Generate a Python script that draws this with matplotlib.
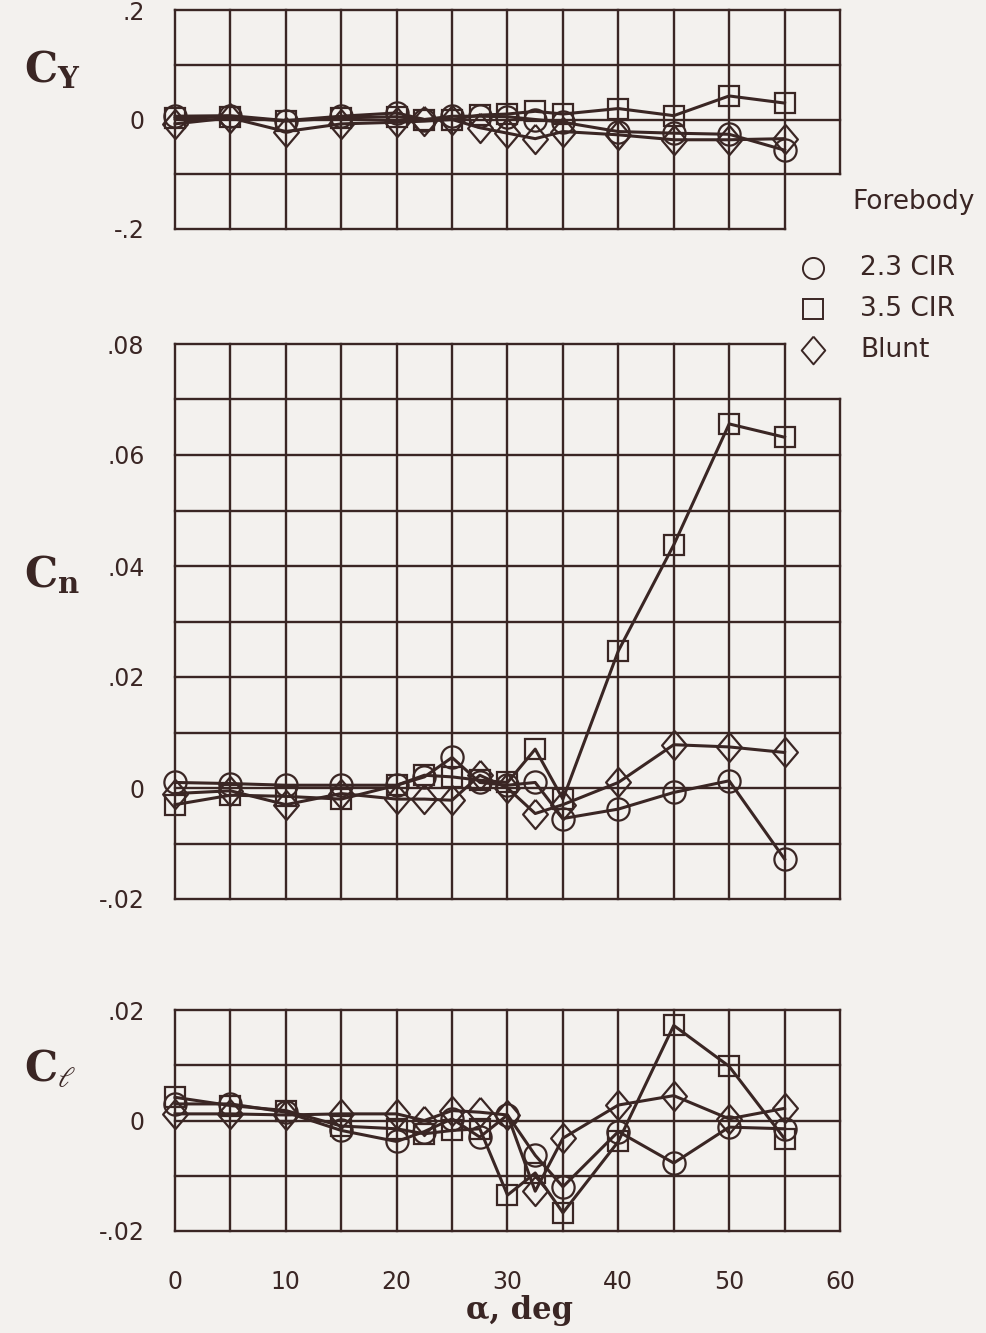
import numpy as np
import matplotlib.pyplot as plt
from matplotlib.lines import Line2D

plt.rcParams["mathtext.fontset"] = "dejavuserif"

# angle of attack, deg
alpha = [0, 5, 10, 15, 20, 22.5, 25, 27.5, 30, 32.5, 35, 40, 45, 50, 55]

# side-force coefficient
cy_23cir = [0.006, 0.007, -0.002, 0.006, 0.012, 0.0, 0.006, 0.006, 0.005, 0.0, -0.005, -0.022, -0.025, -0.027, -0.056]
cy_35cir = [0.002, 0.005, -0.003, 0.003, 0.005, 0.0, 0.0, 0.008, 0.01, 0.015, 0.01, 0.02, 0.007, 0.043, 0.03]
cy_blunt = [-0.008, 0.003, -0.022, -0.008, -0.005, -0.003, 0.0, -0.015, -0.025, -0.035, -0.022, -0.028, -0.037, -0.037, -0.035]

# yawing-moment coefficient
cn_23cir = [0.001, 0.0008, 0.0005, 0.0005, 0.0005, 0.002, 0.0055, 0.001, 0.0005, 0.001, -0.0055, -0.0038, -0.0008, 0.0013, -0.0128]
cn_35cir = [-0.003, -0.0013, -0.0015, -0.002, 0.0005, 0.0023, 0.002, 0.0014, 0.001, 0.007, -0.002, 0.0247, 0.0438, 0.0656, 0.0632]
cn_blunt = [-0.001, -0.0005, -0.003, -0.001, -0.002, -0.002, -0.0022, 0.0023, 0.0, -0.0046, -0.003, 0.001, 0.0078, 0.0074, 0.0064]

# rolling-moment coefficient
cl_23cir = [0.003, 0.003, 0.0015, -0.0018, -0.0038, -0.002, 0.0003, -0.003, 0.001, -0.0063, -0.012, -0.002, -0.0077, -0.0012, -0.0015]
cl_35cir = [0.0042, 0.0027, 0.0018, -0.001, -0.0015, -0.0024, -0.0018, -0.0015, -0.0135, -0.0095, -0.0167, -0.0038, 0.0172, 0.0098, -0.0033]
cl_blunt = [0.0012, 0.0012, 0.001, 0.0012, 0.0012, 0.0, 0.0018, 0.0015, 0.001, -0.0128, -0.0032, 0.0028, 0.0045, 0.0003, 0.0022]

series = [("2.3 CIR", "o"), ("3.5 CIR", "s"), ("Blunt", "D")]

INK = "#3a2624"
BG = "#f3f1ee"
W, H = 987, 1333

fig = plt.figure(figsize=(W / 100, H / 100), dpi=100, facecolor=BG)

diamond = [(0, 1), (0.85, 0), (0, -1), (-0.85, 0), (0, 1)]
msizes = {"o": 16, "s": 15, "D": 21}


def box(top, bottom):
    return [175 / W, 1 - bottom / H, 665 / W, (bottom - top) / H]


def draw_grid(ax, ylo, yhi, ystep, cut=None):
    # cut = (x0, y_a, y_b): piece of the frame left open at the right for the key
    xs = np.arange(0, 61, 5)
    ys = np.round(np.arange(ylo, yhi + ystep / 2, ystep), 6)
    for x in xs:
        a, b = ylo, yhi
        if cut is not None and x > cut[0]:
            if np.isclose(cut[1], ylo):
                a = cut[2]
            else:
                b = cut[1]
        ax.plot([x, x], [a, b], color=INK, lw=1.7, clip_on=False, zorder=1)
    for y in ys:
        x1 = 60
        if cut is not None and (np.isclose(y, cut[1]) and np.isclose(y, ylo) or
                                np.isclose(y, cut[2]) and np.isclose(y, yhi)):
            x1 = cut[0]
        ax.plot([0, x1], [y, y], color=INK, lw=1.7, clip_on=False, zorder=1)


def setup(ax, ylo, yhi, yticks, ylabels):
    ax.set_facecolor(BG)
    ax.set_xlim(0, 60)
    ax.set_ylim(ylo, yhi)
    for s in ax.spines.values():
        s.set_visible(False)
    ax.set_yticks(yticks)
    ax.set_yticklabels(ylabels)
    ax.tick_params(length=0, labelsize=17, labelcolor=INK, pad=22)


def plot_series(ax, ys):
    for (name, m), y in zip(series, ys):
        mk = diamond if m == "D" else m
        ax.plot(alpha, y, color=INK, lw=2.2, marker=mk, ms=msizes[m],
                mfc="none", mec=INK, mew=1.6, clip_on=False, zorder=3)


# side force
ax1 = fig.add_axes(box(10, 229))
setup(ax1, -0.2, 0.2, [-0.2, 0, 0.2], ["-.2", "0", ".2"])
draw_grid(ax1, -0.2, 0.2, 0.1, cut=(55, -0.2, -0.1))
plot_series(ax1, [cy_23cir, cy_35cir, cy_blunt])
ax1.set_xticks([])

# yawing moment
ax2 = fig.add_axes(box(344, 899))
setup(ax2, -0.02, 0.08, [-0.02, 0, 0.02, 0.04, 0.06, 0.08],
      ["-.02", "0", ".02", ".04", ".06", ".08"])
draw_grid(ax2, -0.02, 0.08, 0.01, cut=(55, 0.07, 0.08))
plot_series(ax2, [cn_23cir, cn_35cir, cn_blunt])
ax2.set_xticks([])

# rolling moment
ax3 = fig.add_axes(box(1010, 1231))
setup(ax3, -0.02, 0.02, [-0.02, 0, 0.02], ["-.02", "0", ".02"])
draw_grid(ax3, -0.02, 0.02, 0.01)
plot_series(ax3, [cl_23cir, cl_35cir, cl_blunt])
ax3.set_xticks(range(0, 61, 10))
ax3.tick_params(axis="x", pad=28)

fig.text(466 / W, 1 - 1310 / H, "α, deg", fontsize=22, family="DejaVu Serif",
         weight="bold", color=INK, va="center", ha="left")

lab_kw = dict(fontsize=30, color=INK, ha="left", va="center")
fig.text(24 / W, 1 - 70 / H, r"$\mathbf{C}_\mathbf{Y}$", **lab_kw)
fig.text(24 / W, 1 - 575 / H, r"$\mathbf{C}_\mathbf{n}$", **lab_kw)
fig.text(24 / W, 1 - 1068 / H, r"$\mathbf{C}_\ell$", **lab_kw)

# key
fig.text(852 / W, 1 - 202 / H, "Forebody", fontsize=19, color=INK, va="center", ha="left")
for i, (name, m) in enumerate(series):
    yk = 1 - (268 + 41 * i) / H
    mk = diamond if m == "D" else m
    fig.add_artist(Line2D([813 / W], [yk], transform=fig.transFigure, ls="none",
                          marker=mk, ms=msizes[m] * 0.95, mfc="none", mec=INK, mew=1.4))
    fig.text(860 / W, yk, name, fontsize=19, color=INK, va="center", ha="left")

fig.savefig("out.png", dpi=100, facecolor=BG)
